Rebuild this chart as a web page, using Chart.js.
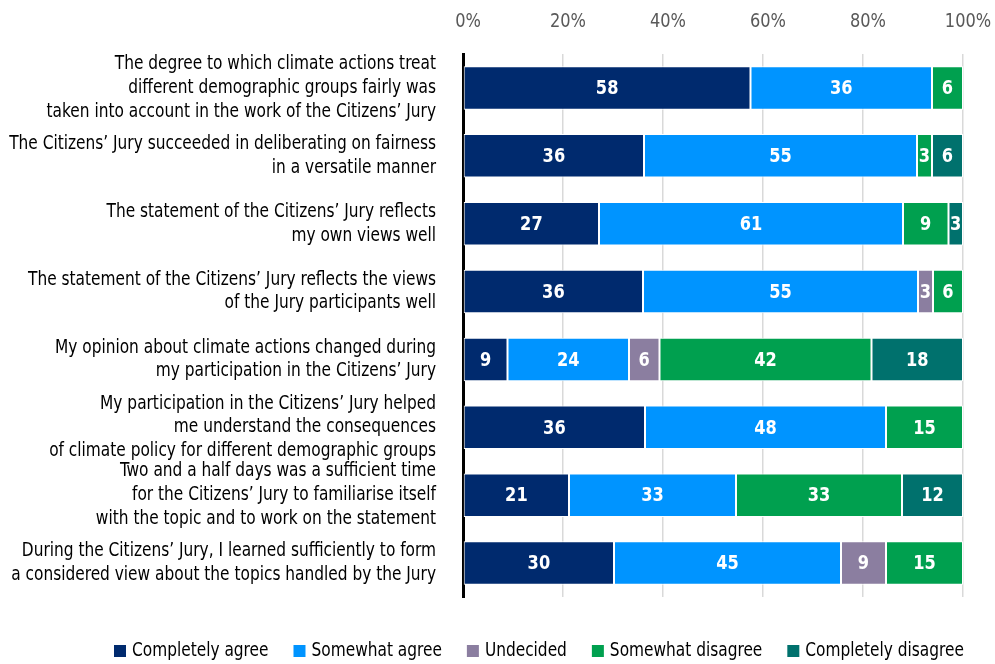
<!DOCTYPE html>
<html>
<head>
<meta charset="utf-8">
<script src="https://cdn.jsdelivr.net/npm/chart.js@4"></script>
<style>
  html, body { margin: 0; padding: 0; background: #fff; }
  #wrap { width: 995px; height: 664px; }
</style>
</head>
<body>
<div id="wrap"><canvas id="chart"></canvas></div>
<script>
// Survey statements (one bar each)
const statements = [
    ['The degree to which climate actions treat', 'different demographic groups fairly was', 'taken into account in the work of the Citizens\u2019 Jury'],
    ['The Citizens\u2019 Jury succeeded in deliberating on fairness', 'in a versatile manner'],
    ['The statement of the Citizens\u2019 Jury reflects', 'my own views well'],
    ['The statement of the Citizens\u2019 Jury reflects the views', 'of the Jury participants well'],
    ['My opinion about climate actions changed during', 'my participation in the Citizens\u2019 Jury'],
    ['My participation in the Citizens\u2019 Jury helped', 'me understand the consequences', 'of climate policy for different demographic groups'],
    ['Two and a half days was a sufficient time', 'for the Citizens\u2019 Jury to familiarise itself', 'with the topic and to work on the statement'],
    ['During the Citizens\u2019 Jury, I learned sufficiently to form', 'a considered view about the topics handled by the Jury']
];
// answer shares in percent (segment labels show them rounded)
const completelyAgree    = [57.5, 36.2, 27.2, 36, 8.9, 36.4, 21.2, 30.2];
const somewhatAgree      = [36.3, 54.6, 60.8, 55, 24.3, 48.2, 33.4, 45.4];
const undecided          = [0, 0, 0, 3, 6.1, 0, 0, 9.0];
const somewhatDisagree   = [6.2, 3.0, 9.1, 6, 42.4, 15.4, 33.2, 15.4];
const completelyDisagree = [0, 6.2, 2.9, 0, 18.3, 0, 12.2, 0];
const xTicks = [0, 20, 40, 60, 80, 100];

const FONT = '"DejaVu Sans Condensed", "DejaVu Sans", sans-serif';
const NARROW = 0.9; // squeeze text a bit more, the original uses a condensed face

const canvas = document.getElementById('chart');
const c2d = canvas.getContext('2d');

// make every text drawn on this canvas narrower (and measure it that way too)
(function(ctx, s) {
    const fill = ctx.fillText.bind(ctx);
    const measure = ctx.measureText.bind(ctx);
    ctx.fillText = function(text, x, y) {
        ctx.save();
        ctx.translate(x, y);
        ctx.scale(s, 1);
        fill(text, 0, 0);
        ctx.restore();
    };
    ctx.measureText = function(text) {
        const m = measure(text);
        return {
            width: m.width * s,
            actualBoundingBoxAscent: m.actualBoundingBoxAscent,
            actualBoundingBoxDescent: m.actualBoundingBoxDescent,
            actualBoundingBoxLeft: m.actualBoundingBoxLeft * s,
            actualBoundingBoxRight: m.actualBoundingBoxRight * s,
            fontBoundingBoxAscent: m.fontBoundingBoxAscent,
            fontBoundingBoxDescent: m.fontBoundingBoxDescent
        };
    };
})(c2d, NARROW);

// white value labels in the middle of each segment
const barValues = {
    id: 'barValues',
    afterDatasetsDraw(chart) {
        const ctx = chart.ctx;
        ctx.save();
        ctx.fillStyle = '#fff';
        ctx.font = 'bold 20px ' + FONT;
        ctx.textAlign = 'center';
        ctx.textBaseline = 'middle';
        chart.data.datasets.forEach((ds, i) => {
            chart.getDatasetMeta(i).data.forEach((bar, j) => {
                const v = ds.data[j];
                if (!v) return;
                const p = bar.getProps(['x', 'y', 'base'], true);
                ctx.fillText(String(Math.round(v)), (p.x + p.base) / 2, p.y + 1);
            });
        });
        ctx.restore();
    }
};

// legend row under the chart: small square then the name
const bottomLegend = {
    id: 'bottomLegend',
    afterDraw(chart) {
        const ctx = chart.ctx;
        let x = 114;
        const y = 651;
        ctx.save();
        ctx.font = '19px ' + FONT;
        ctx.textBaseline = 'middle';
        ctx.textAlign = 'left';
        chart.data.datasets.forEach(ds => {
            ctx.fillStyle = ds.backgroundColor;
            ctx.fillRect(x, y - 6, 12, 12);
            ctx.fillStyle = '#000';
            ctx.fillText(ds.label, x + 18, y);
            x += 18 + ctx.measureText(ds.label).width + 25;
        });
        ctx.restore();
    }
};

function series(label, data, color) {
    return {
        label: label,
        data: data,
        backgroundColor: color,
        borderColor: '#fff',
        borderWidth: 1,
        borderSkipped: false,
        barPercentage: 0.64,
        categoryPercentage: 1
    };
}

new Chart(canvas, {
    type: 'bar',
    data: {
        labels: statements,
        datasets: [
            series('Completely agree', completelyAgree, '#002a6e'),
            series('Somewhat agree', somewhatAgree, '#0094ff'),
            series('Undecided', undecided, '#8b7ea0'),
            series('Somewhat disagree', somewhatDisagree, '#00a04f'),
            series('Completely disagree', completelyDisagree, '#00716d')
        ]
    },
    options: {
        indexAxis: 'y',
        responsive: true,
        maintainAspectRatio: false,
        animation: false,
        layout: { padding: { top: 0, right: 32, bottom: 67, left: 0 } },
        scales: {
            x: {
                position: 'top',
                stacked: true,
                min: 0,
                max: 100,
                afterBuildTicks: function(axis) {
                    axis.ticks = xTicks.map(v => ({ value: v }));
                },
                ticks: {
                    callback: v => v + '%',
                    color: '#595959',
                    font: { family: FONT, size: 20 },
                    padding: 20,
                    labelOffset: 5
                },
                grid: { color: '#d9d9d9', lineWidth: 1.5, drawTicks: false },
                border: { display: false },
                afterFit: function(scale) {
                    scale.height = 54;
                    scale.paddingLeft = 0;
                    scale.paddingRight = 0;
                }
            },
            y: {
                stacked: true,
                ticks: {
                    color: '#000',
                    font: { family: FONT, size: 19, lineHeight: 1.25 },
                    padding: 27,
                    autoSkip: false
                },
                grid: { display: false, drawTicks: false },
                border: { display: true, color: '#000', width: 3 },
                afterFit: function(scale) { scale.width = 463; }
            }
        },
        plugins: {
            legend: { display: false },
            tooltip: { enabled: false }
        }
    },
    plugins: [barValues, bottomLegend]
});
</script>
</body>
</html>
